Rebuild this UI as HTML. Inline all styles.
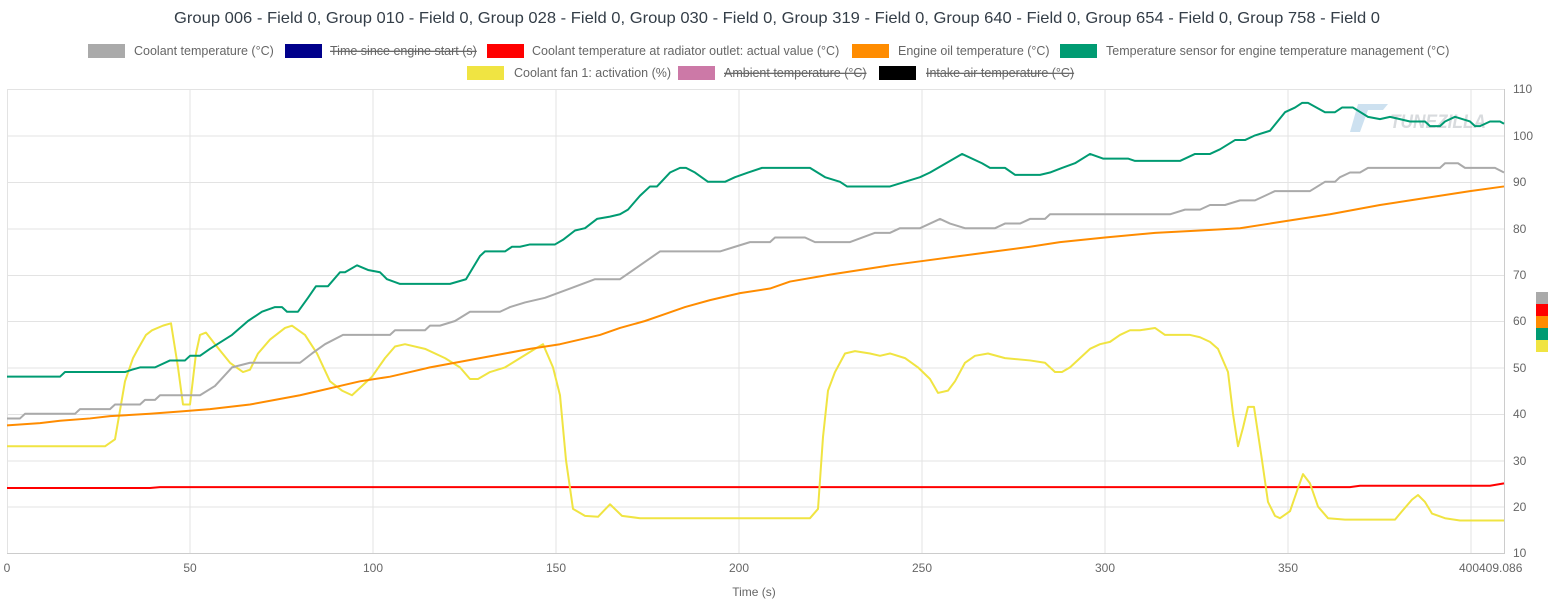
<!DOCTYPE html>
<html><head><meta charset="utf-8"><style>
body{margin:0;background:#fff;font-family:"Liberation Sans",sans-serif}
svg{display:block}
text{font-family:"Liberation Sans",sans-serif}
</style></head><body>
<svg width="1554" height="600" xmlns="http://www.w3.org/2000/svg">
<text x="777" y="23" text-anchor="middle" font-size="16" fill="#333d47" textLength="1206" lengthAdjust="spacingAndGlyphs">Group 006 - Field 0, Group 010 - Field 0, Group 028 - Field 0, Group 030 - Field 0, Group 319 - Field 0, Group 640 - Field 0, Group 654 - Field 0, Group 758 - Field 0</text>
<g font-size="12.5" fill="#666">
<rect x="88" y="44" width="37" height="14" fill="#aaa"/><text x="134" y="55">Coolant temperature (°C)</text>
<rect x="285" y="44" width="37" height="14" fill="#00008b"/><text x="330" y="55" text-decoration="line-through">Time since engine start (s)</text>
<rect x="487" y="44" width="37" height="14" fill="#f00"/><text x="532" y="55">Coolant temperature at radiator outlet: actual value (°C)</text>
<rect x="852" y="44" width="37" height="14" fill="#ff8c00"/><text x="898" y="55">Engine oil temperature (°C)</text>
<rect x="1060" y="44" width="37" height="14" fill="#009b72"/><text x="1106" y="55">Temperature sensor for engine temperature management (°C)</text>
<rect x="467" y="66" width="37" height="14" fill="#f0e442"/><text x="514" y="77">Coolant fan 1: activation (%)</text>
<rect x="678" y="66" width="37" height="14" fill="#cc79a7"/><text x="724" y="77" text-decoration="line-through">Ambient temperature (°C)</text>
<rect x="879" y="66" width="37" height="14" fill="#000"/><text x="926" y="77" text-decoration="line-through">Intake air temperature (°C)</text>
</g>
<g stroke="#e3e3e3" stroke-width="1">
<line x1="7" x2="1504" y1="89.5" y2="89.5"/><line x1="7" x2="1504" y1="136" y2="136"/><line x1="7" x2="1504" y1="182.5" y2="182.5"/><line x1="7" x2="1504" y1="229" y2="229"/><line x1="7" x2="1504" y1="275.5" y2="275.5"/><line x1="7" x2="1504" y1="321.5" y2="321.5"/><line x1="7" x2="1504" y1="368" y2="368"/><line x1="7" x2="1504" y1="414.5" y2="414.5"/><line x1="7" x2="1504" y1="461" y2="461"/><line x1="7" x2="1504" y1="507" y2="507"/>
<line y1="89" y2="553" x1="7.5" x2="7.5"/><line y1="89" y2="553" x1="190" x2="190"/><line y1="89" y2="553" x1="373" x2="373"/><line y1="89" y2="553" x1="556" x2="556"/><line y1="89" y2="553" x1="739" x2="739"/><line y1="89" y2="553" x1="922" x2="922"/><line y1="89" y2="553" x1="1105" x2="1105"/><line y1="89" y2="553" x1="1288" x2="1288"/><line y1="89" y2="553" x1="1471" x2="1471"/><line y1="89" y2="553" x1="1504.5" x2="1504.5" stroke="#ccc"/>
</g>
<line x1="7" x2="1505" y1="553.5" y2="553.5" stroke="#ccc"/>
<g font-size="12" fill="#666" text-anchor="middle">
<text x="7" y="572">0</text><text x="190" y="572">50</text><text x="373" y="572">100</text><text x="556" y="572">150</text><text x="739" y="572">200</text><text x="922" y="572">250</text><text x="1105" y="572">300</text><text x="1288" y="572">350</text><text x="1479" y="572" text-anchor="end">400</text><text x="1479" y="572" text-anchor="start">409.086</text>
<text x="754" y="596">Time (s)</text>
</g>
<g font-size="12" fill="#666">
<text x="1513" y="93">110</text><text x="1513" y="140">100</text><text x="1513" y="186">90</text><text x="1513" y="233">80</text><text x="1513" y="279">70</text><text x="1513" y="325">60</text><text x="1513" y="372">50</text><text x="1513" y="418">40</text><text x="1513" y="465">30</text><text x="1513" y="511">20</text><text x="1513" y="557">10</text>
</g>
<text x="1390" y="128" font-size="19" font-weight="bold" font-style="italic" fill="#cfd3d6" opacity="0.8" textLength="96" lengthAdjust="spacingAndGlyphs">TUNEZILLA</text>
<path d="M1358 104 L1388 104 L1383 110 L1368 110 L1360 132 L1350 132 Z" fill="#b8d4ea" opacity="0.7"/>
<rect x="1536" y="292" width="12" height="12" fill="#aaa"/><rect x="1536" y="304" width="12" height="12" fill="#f00"/><rect x="1536" y="316" width="12" height="12" fill="#ff8c00"/><rect x="1536" y="328" width="12" height="12" fill="#009b72"/><rect x="1536" y="340" width="12" height="12" fill="#f0e442"/>
<g transform="translate(0,599.4) scale(1,-4.64)" fill="none" stroke-width="2" stroke-linejoin="round">
<polyline vector-effect="non-scaling-stroke" stroke="#f00" points="7,24 150,24 160,24.2 1350,24.2 1360,24.5 1490,24.5 1504,25"/>
<polyline vector-effect="non-scaling-stroke" stroke="#f0e442" points="7,33 105,33 115,34.5 125,47 133,52 138,54 146,57 152,58 163,59 171,59.5 178,50 183,42 190,42 196,53 200,57 206,57.5 215,55 230,51 243,49 250,49.5 258,53 270,56 285,58.5 292,59 305,57 317,53 330,47 342,45 352,44 362,46 372,48 385,52 395,54.5 405,55 425,54 445,52 460,50 470,47.5 478,47.5 490,49 505,50 520,52 535,54 543,55 553,50 560,44 566,30 573,19.5 585,18 598,17.8 610,20.5 622,18 640,17.5 810,17.5 818,19.5 823,35 828,45 835,49 845,53 855,53.5 870,53 880,52.5 890,53 905,52 918,50 930,47.5 938,44.5 948,45 955,47 965,51 975,52.5 988,53 1005,52 1030,51.5 1045,51 1055,49 1062,49 1070,50 1080,52 1090,54 1100,55 1110,55.5 1120,57 1130,58 1140,58 1155,58.5 1165,57 1190,57 1200,56.5 1210,55.5 1218,54 1228,49 1233,40 1238,33 1243,37 1248,41.5 1254,41.5 1262,30 1268,21 1275,18 1280,17.5 1290,19 1298,24 1303,27 1310,25 1318,20 1328,17.5 1345,17.2 1395,17.2 1402,19 1412,21.5 1418,22.5 1425,21 1432,18.5 1445,17.5 1460,17 1504,17"/>
<polyline vector-effect="non-scaling-stroke" stroke="#ff8c00" points="7,37.5 40,38 60,38.5 90,39 110,39.5 150,40 180,40.5 210,41 250,42 275,43 300,44 320,45 340,46 360,47 390,48 410,49 430,50 455,51 480,52 505,53 530,54 560,55 580,56 600,57 620,58.5 645,60 665,61.5 685,63 710,64.5 740,66 770,67 790,68.5 830,70 860,71 890,72 925,73 960,74 995,75 1030,76 1060,77 1105,78 1155,79 1200,79.5 1240,80 1270,81 1300,82 1330,83 1355,84 1380,85 1410,86 1440,87 1470,88 1504,89"/>
<polyline vector-effect="non-scaling-stroke" stroke="#aaa" points="7,39 20,39 25,40 75,40 80,41 110,41 115,42 140,42 145,43 155,43 160,44 200,44 215,46 232,50 250,51 300,51 312,53 325,55 343,57 390,57 395,58 425,58 430,59 440,59 455,60 470,62 500,62 510,63 525,64 545,65 570,67 595,69 620,69 640,72 660,75 720,75 735,76 750,77 770,77 775,78 805,78 815,77 850,77 875,79 890,79 900,80 920,80 930,81 940,82 950,81 965,80 995,80 1005,81 1020,81 1030,82 1045,82 1050,83 1170,83 1185,84 1200,84 1210,85 1225,85 1240,86 1255,86 1265,87 1275,88 1310,88 1325,90 1335,90 1340,91 1350,92 1360,92 1368,93 1440,93 1445,94 1458,94 1465,93 1495,93 1504,92"/>
<polyline vector-effect="non-scaling-stroke" stroke="#009b72" points="7,48 60,48 65,49 125,49 132,49.5 140,50 155,50 170,51.5 185,51.5 190,52.5 200,52.5 210,54 232,57 248,60 262,62 275,63 282,63 287,62 298,62 308,65 316,67.5 328,67.5 340,70.5 345,70.5 357,72 368,71 380,70.5 387,69 400,68 450,68 466,69 480,74 485,75 505,75 512,76 520,76 530,76.5 555,76.5 563,77.5 575,79.5 585,80 597,82 610,82.5 620,83 628,84 640,87 650,89 657,89 670,92 680,93 686,93 695,92 708,90 725,90 735,91 748,92 762,93 810,93 825,91 840,90 847,89 890,89 905,90 920,91 930,92 938,93 962,96 982,94 990,93 1005,93 1015,91.5 1040,91.5 1050,92 1062,93 1075,94 1090,96 1103,95 1128,95 1135,94.5 1180,94.5 1195,96 1210,96 1220,97 1235,99 1245,99 1255,100 1270,101 1285,105 1295,106 1302,107 1308,107 1325,105 1335,105 1342,106 1353,106 1368,104 1380,103.5 1390,104 1410,103 1425,103 1430,102 1440,102 1445,103 1455,104 1470,103 1475,102 1480,102 1490,103 1500,103 1504,102.5"/>
</g>
</svg>
</body></html>
